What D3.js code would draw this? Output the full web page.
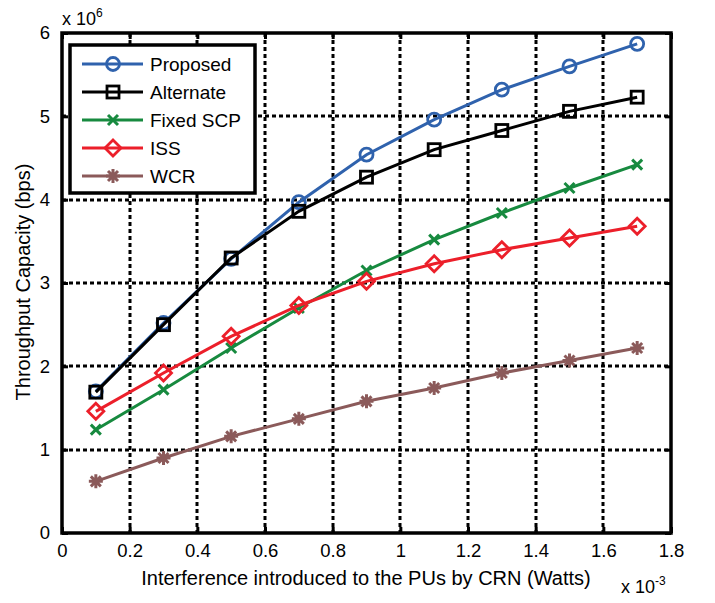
<!DOCTYPE html>
<html><head><meta charset="utf-8">
<script src="https://cdn.jsdelivr.net/npm/d3@7"></script>
<style>body{margin:0;background:#fff}svg{display:block}text{font-family:"Liberation Sans",Arial,sans-serif}</style>
</head><body>
<script>
const xValues = [0.1,0.3,0.5,0.7,0.9,1.1,1.3,1.5,1.7];
const proposed = [1.70,2.52,3.29,3.97,4.54,4.96,5.32,5.60,5.87];
const alternate = [1.69,2.50,3.30,3.86,4.27,4.60,4.83,5.06,5.23];
const fixedSCP = [1.24,1.72,2.22,2.70,3.15,3.52,3.84,4.14,4.42];
const iss = [1.46,1.92,2.36,2.73,3.02,3.23,3.40,3.54,3.68];
const wcr = [0.62,0.90,1.16,1.37,1.58,1.74,1.92,2.07,2.22];
const seriesNames = ["Proposed","Alternate","Fixed SCP","ISS","WCR"];
const xTicks = [0,0.2,0.4,0.6,0.8,1,1.2,1.4,1.6,1.8];
const yTicks = [0,1,2,3,4,5,6];

const series = [
  {name:seriesNames[0], vals:proposed, color:"#2f62ad", marker:"circle"},
  {name:seriesNames[1], vals:alternate, color:"#000000", marker:"square"},
  {name:seriesNames[2], vals:fixedSCP, color:"#178a3f", marker:"x"},
  {name:seriesNames[3], vals:iss, color:"#ec1f2a", marker:"diamond"},
  {name:seriesNames[4], vals:wcr, color:"#8b5a5a", marker:"star"}
];

const W=715,H=603;
const L=62,R=671,T=33,B=533;
const svg=d3.select("body").append("svg").attr("width",W).attr("height",H);
const x=d3.scaleLinear().domain([0,1.8]).range([L,R]);
const y=d3.scaleLinear().domain([0,6]).range([B,T]);

// grid
const g=svg.append("g");
xTicks.slice(1,-1).forEach(t=>g.append("line").attr("x1",Math.round(x(t))).attr("x2",Math.round(x(t))).attr("y1",T).attr("y2",B)
  .attr("stroke","#000").attr("stroke-width",3).attr("stroke-dasharray","4,3"));
yTicks.slice(1,-1).forEach(t=>g.append("line").attr("x1",L).attr("x2",R).attr("y1",Math.round(y(t))).attr("y2",Math.round(y(t)))
  .attr("stroke","#000").attr("stroke-width",3).attr("stroke-dasharray","4,3"));

// axes
const xAxis=d3.axisBottom(x).tickValues(xTicks).tickFormat(d=>d3.format("")(+d.toFixed(1))).tickSize(-6).tickPadding(11);
const yAxis=d3.axisLeft(y).tickValues(yTicks).tickFormat(d3.format("d")).tickSize(-6).tickPadding(12);
const ax=svg.append("g").attr("transform",`translate(0,${B})`).call(xAxis);
const ay=svg.append("g").attr("transform",`translate(${L},0)`).call(yAxis);
const axT=svg.append("g").attr("transform",`translate(0,${T})`).call(d3.axisTop(x).tickValues(xTicks).tickSize(-6).tickFormat(""));
const ayR=svg.append("g").attr("transform",`translate(${R},0)`).call(d3.axisRight(y).tickValues(yTicks).tickSize(-6).tickFormat(""));
[ax,ay,axT,ayR].forEach(a=>{
  a.select(".domain").remove();
  a.selectAll(".tick line").attr("stroke","#000").attr("stroke-width",3);
  a.selectAll(".tick text").attr("font-size",18.5).attr("fill","#000").attr("font-family","Liberation Sans, Arial, sans-serif");
});
svg.append("rect").attr("x",L).attr("y",T).attr("width",R-L).attr("height",B-T)
  .attr("fill","none").attr("stroke","#000").attr("stroke-width",3.5);

// lines
const line=d3.line().x((d,i)=>x(xValues[i])).y(d=>y(d));
function marker(sel,type,color){
  if(type==="circle") sel.append("circle").attr("r",6.5).attr("fill","none").attr("stroke",color).attr("stroke-width",2.8);
  else if(type==="square") sel.append("rect").attr("x",-6).attr("y",-6).attr("width",12).attr("height",12).attr("fill","none").attr("stroke",color).attr("stroke-width",2.8);
  else if(type==="diamond") sel.append("path").attr("d","M0,-8L8,0L0,8L-8,0Z").attr("fill","none").attr("stroke",color).attr("stroke-width",2.8);
  else if(type==="x") sel.append("path").attr("d","M-5,-5L5,5M-5,5L5,-5").attr("stroke",color).attr("stroke-width",3);
  else if(type==="star") sel.append("path").attr("d","M0,-7L0,7M-7,0L7,0M-5,-5L5,5M-5,5L5,-5").attr("stroke",color).attr("stroke-width",3);
}
series.forEach(s=>{
  svg.append("path").datum(s.vals).attr("d",line).attr("fill","none").attr("stroke",s.color).attr("stroke-width",3);
  s.vals.forEach((v,i)=>{
    const m=svg.append("g").attr("transform",`translate(${x(xValues[i])},${y(v)})`);
    marker(m,s.marker,s.color);
  });
});

// legend
const lg=svg.append("g");
lg.append("rect").attr("x",70).attr("y",45).attr("width",185).attr("height",148).attr("fill","#fff").attr("stroke","#000").attr("stroke-width",3.5);
series.forEach((s,i)=>{
  const yy=64+i*28;
  lg.append("line").attr("x1",82).attr("x2",143).attr("y1",yy).attr("y2",yy).attr("stroke",s.color).attr("stroke-width",3);
  marker(lg.append("g").attr("transform",`translate(113,${yy})`),s.marker,s.color);
  lg.append("text").attr("x",150).attr("y",yy+7).attr("font-size",19).attr("fill","#000").text(s.name);
});

// labels
svg.append("text").attr("x",366).attr("y",585).attr("text-anchor","middle").attr("font-size",20).text("Interference introduced to the PUs by CRN (Watts)");
svg.append("text").attr("transform","translate(30,282) rotate(-90)").attr("text-anchor","middle").attr("font-size",20).text("Throughput Capacity (bps)");
const e1=svg.append("text").attr("x",62).attr("y",25).attr("font-size",18);
e1.append("tspan").text("x 10");
e1.append("tspan").attr("font-size",12).attr("dy",-8).text("6");
const e2=svg.append("text").attr("x",621).attr("y",593).attr("font-size",18);
e2.append("tspan").text("x 10");
e2.append("tspan").attr("font-size",12).attr("dy",-8).text("-3");
</script>
</body></html>
